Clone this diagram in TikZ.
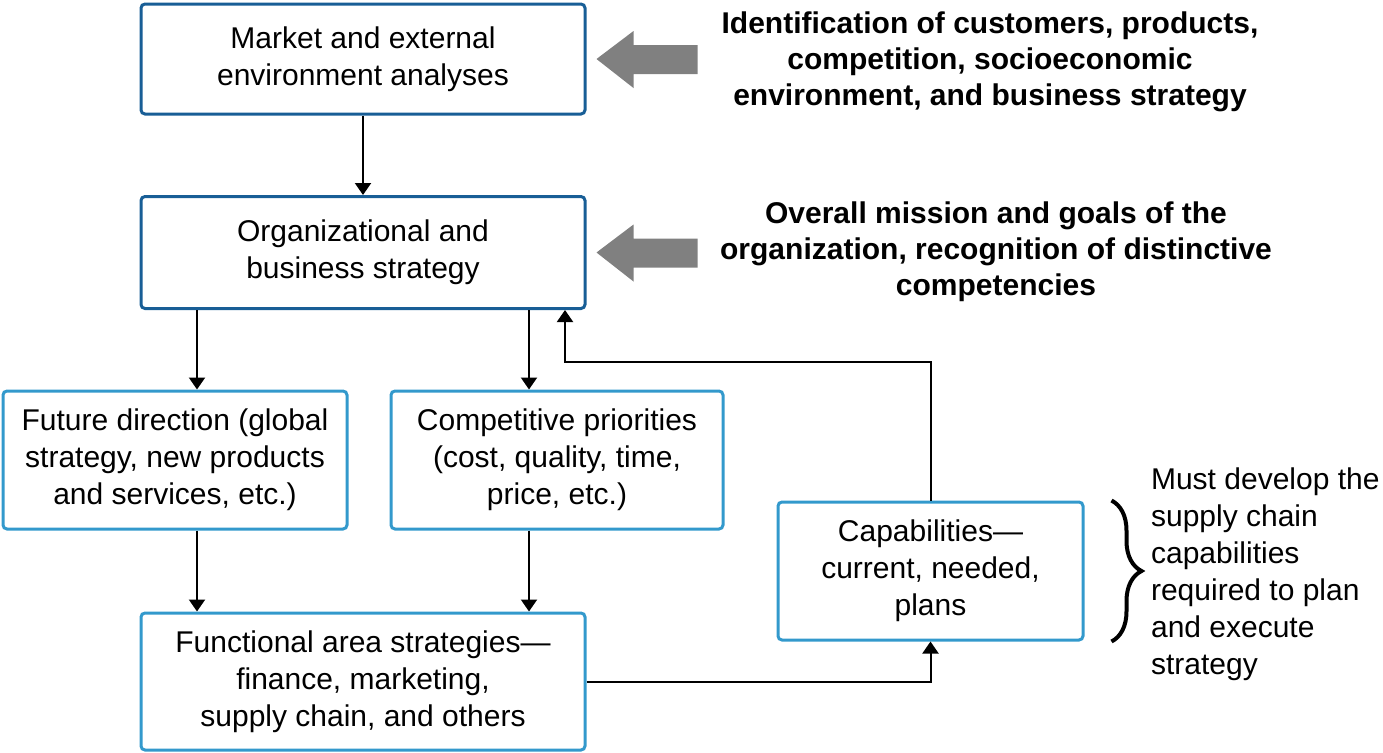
\documentclass[tikz,border=0pt]{standalone}
\usepackage{fontspec}
\setmainfont{Liberation Sans}
\usetikzlibrary{arrows.meta, calc, decorations.pathreplacing}
\def\grayarrow{(0,0) -- (37,-28) -- (37,-14) -- (101,-14) -- (101,15) -- (37,15) -- (37,29) -- cycle}
\definecolor{box dark}{RGB}{24,94,150}
\definecolor{box light}{RGB}{51,153,204}
\colorlet{arrow fill}{black!50}
\tikzset{
  darkbox/.style={draw=box dark, line width=1.5pt, rounded corners=2pt, align=center, inner sep=0pt},
  lightbox/.style={darkbox, draw=box light},
  flow/.style={-{Triangle[width=8pt, length=6pt]}, line width=1pt},
  heavy/.style={fill=arrow fill},
  remark/.style={font=\fontsize{15}{18}\selectfont\bfseries, align=center}
}

\begin{document}
\begin{tikzpicture}[x=0.5pt, y=-0.5pt, font=\fontsize{15}{18.5}\selectfont]
    \useasboundingbox (0,0) rectangle (1383,752);
    \node[darkbox, minimum width=222pt, minimum height=55pt] (mkt) at (363,59)
      {Market and external\\environment analyses};
    \node[darkbox, minimum width=222pt, minimum height=56pt] (org) at (363,252.5)
      {Organizational and\\business strategy};
    \node[lightbox, minimum width=172pt, minimum height=69pt] (fut) at (175,460)
      {Future direction (global\\strategy, new products\\and services, etc.)};
    \node[lightbox, minimum width=166pt, minimum height=69pt] (comp) at (557,460)
      {Competitive priorities\\(cost, quality, time,\\price, etc.)};
    \node[lightbox, minimum width=222pt, minimum height=68.5pt] (func) at (363,681.5)
      {Functional area strategies---\\finance, marketing,\\supply chain, and others};
    \node[lightbox, minimum width=152.5pt, minimum height=69pt] (cap) at (930.5,571)
      {Capabilities---\\current, needed,\\plans};
    \node[remark] (ident) at (990,62)
      {Identification of customers, products,\\competition, socioeconomic\\environment, and business strategy};
    \node[remark] (mission) at (996,252)
      {Overall mission and goals of the\\organization, recognition of distinctive\\competencies};
    \node[align=left, anchor=west, font=\fontsize{15}{18.5}\selectfont] (note) at (1144,574)
      {Must develop the\\supply chain\\capabilities\\required to plan\\and execute\\strategy};
    \fill[heavy, shift={($(mkt.east)+(10,0)$)}] \grayarrow;
    \fill[heavy, shift={($(org.east)+(10,0)$)}] \grayarrow;
    \coordinate (lx) at (197,0);
    \coordinate (rx) at (529,0);
    \coordinate (back) at (565,362);
    \draw[flow] (mkt) -- (org);
    \draw[flow] (org.south -| lx) -- (fut.north -| lx);
    \draw[flow] (org.south -| rx) -- (comp.north -| rx);
    \draw[flow] (fut.south -| lx) -- (func.north -| lx);
    \draw[flow] (comp.south -| rx) -- (func.north -| rx);
    \draw[flow] (func.east) -| (cap.south);
    \draw[flow] (cap.north) |- (back) -- (org.south -| back);
    \draw[line width=2pt, decorate, decoration={brace, amplitude=15pt}]
      ($(cap.north east)+(27,0)$) -- ($(cap.south east)+(27,0)$);
  \end{tikzpicture}
\end{document}
